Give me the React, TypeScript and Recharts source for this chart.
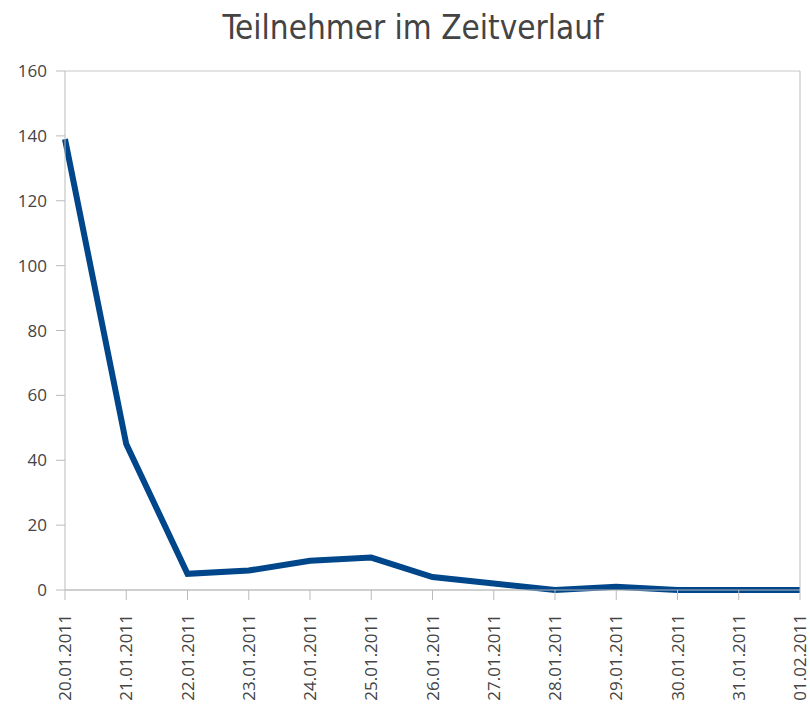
import React from 'react';
import { LineChart, Line, XAxis, YAxis, CartesianGrid } from 'recharts';

const dates = ['20.01.2011','21.01.2011','22.01.2011','23.01.2011','24.01.2011','25.01.2011','26.01.2011','27.01.2011','28.01.2011','29.01.2011','30.01.2011','31.01.2011','01.02.2011'];
const participants = [139, 45, 5, 6, 9, 10, 4, 2, 0, 1, 0, 0, 0];
const yTicks = [0, 20, 40, 60, 80, 100, 120, 140, 160];

const data = dates.map((d, i) => ({ date: d, value: participants[i] }));

const XTick = (props: any) => {
  const { x, y, payload } = props;
  return (
    <text
      x={0}
      y={0}
      transform={`translate(${x + 6},${y + 12}) rotate(-90)`}
      textAnchor="end"
      fontFamily="Open Sans"
      fontSize={17}
      fill="#444"
    >
      {payload.value}
    </text>
  );
};

export default function App() {
  return (
    <div style={{ position: 'absolute', left: 0, top: 0, width: 810, height: 706, background: '#fff' }}>
      <div
        style={{
          position: 'absolute',
          left: 0,
          top: 6,
          width: 826,
          textAlign: 'center',
          fontFamily: '"DejaVu Sans Condensed", "DejaVu Sans", sans-serif',
          fontStretch: 'condensed',
          fontSize: 33,
          color: '#444',
          lineHeight: '44px',
        }}
      >
        Teilnehmer im Zeitverlauf
      </div>
      <LineChart width={810} height={706} data={data} margin={{ top: 71, right: 0, left: 0, bottom: 0 }}>
        <CartesianGrid vertical={false} stroke="#c8c8c8" strokeWidth={1} />
        <XAxis
          dataKey="date"
          interval={0}
          height={116}
          tick={<XTick />}
          tickLine={{ stroke: '#bbb' }}
          tickSize={10}
          axisLine={{ stroke: '#bbb' }}
        />
        <YAxis
          yAxisId="left"
          domain={[0, 160]}
          ticks={yTicks}
          width={65}
          tickSize={9}
          tickMargin={9}
          tick={{ fill: '#444', fontFamily: 'Open Sans', fontSize: 17 }}
          tickLine={{ stroke: '#bbb' }}
          axisLine={{ stroke: '#bbb' }}
        />
        <YAxis
          yAxisId="right"
          orientation="right"
          domain={[0, 160]}
          width={10}
          tick={false}
          tickLine={false}
          axisLine={{ stroke: '#bbb' }}
        />
        <Line
          yAxisId="left"
          type="linear"
          dataKey="value"
          stroke="#00468a"
          strokeWidth={6}
          dot={false}
          isAnimationActive={false}
        />
      </LineChart>
    </div>
  );
}
